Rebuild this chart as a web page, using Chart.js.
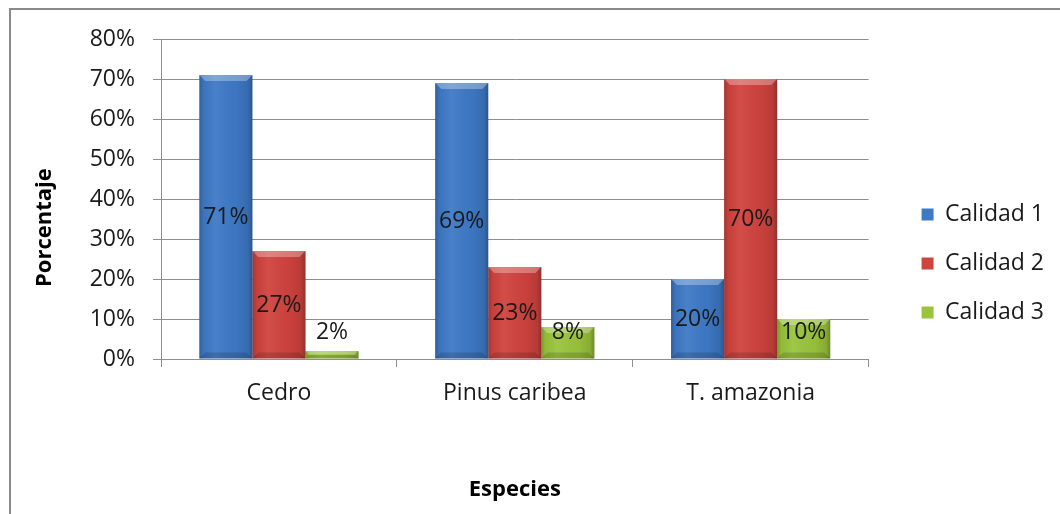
<!DOCTYPE html>
<html>
<head>
<meta charset="utf-8">
<script src="https://cdn.jsdelivr.net/npm/chart.js@4"></script>
<style>
  html, body { margin: 0; padding: 0; background: #fff; overflow: hidden; }
  #wrap { position: relative; width: 1060px; height: 514px; }
  #frame { position: absolute; left: 9px; top: 8px; width: 1100px; height: 600px;
           border: 2px solid #8a8a8a; box-sizing: border-box; pointer-events: none; }
  canvas { position: absolute; left: 0; top: 0; }
</style>
</head>
<body>
<div id="wrap">
  <canvas id="c" width="1060" height="514"></canvas>
  <div id="frame"></div>
</div>
<script>
// Species and quality classes
const especies = ['Cedro', 'Pinus caribea', 'T. amazonia'];
const calidad1 = [71, 69, 20];
const calidad2 = [27, 23, 70];
const calidad3 = [2, 8, 10];
const seriesNames = ['Calidad 1', 'Calidad 2', 'Calidad 3'];
const yTicks = [0, 10, 20, 30, 40, 50, 60, 70, 80];

const colors = ['#3e79c6', '#d0433e', '#9ac43c'];
const FONT = '"Open Sans", "Noto Sans", sans-serif';
const GRID = '#8e8e8e';

// Bevel shading on top of each bar, following the element geometry
const bevelPlugin = {
  id: 'bevel',
  afterDatasetsDraw(chart) {
    const ctx = chart.ctx;
    chart.data.datasets.forEach((ds, di) => {
      const meta = chart.getDatasetMeta(di);
      meta.data.forEach(bar => {
        const left = bar.x - bar.width / 2, right = bar.x + bar.width / 2;
        const top = bar.y, bottom = bar.base, w = bar.width;
        if (bottom - top < 1) return;
        ctx.save();
        const g = ctx.createLinearGradient(left, 0, right, 0);
        g.addColorStop(0, 'rgba(0,0,0,0.22)');
        g.addColorStop(0.08, 'rgba(0,0,0,0.05)');
        g.addColorStop(0.3, 'rgba(255,255,255,0.06)');
        g.addColorStop(0.7, 'rgba(0,0,0,0.03)');
        g.addColorStop(0.92, 'rgba(0,0,0,0.12)');
        g.addColorStop(1, 'rgba(0,0,0,0.3)');
        ctx.fillStyle = g;
        ctx.fillRect(left, top, w, bottom - top);
        // top bevel
        const b = Math.min(6, (bottom - top) / 2);
        ctx.beginPath();
        ctx.moveTo(left, top);
        ctx.lineTo(right, top);
        ctx.lineTo(right - b, top + b);
        ctx.lineTo(left + b, top + b);
        ctx.closePath();
        ctx.fillStyle = 'rgba(255,255,255,0.3)';
        ctx.fill();
        // bottom shade
        ctx.beginPath();
        ctx.moveTo(left, bottom);
        ctx.lineTo(right, bottom);
        ctx.lineTo(right - b, bottom - b);
        ctx.lineTo(left + b, bottom - b);
        ctx.closePath();
        ctx.fillStyle = 'rgba(0,0,0,0.15)';
        ctx.fill();
        ctx.restore();
      });
    });
  }
};

// Value labels: centred in the bar, lifted above the axis for short bars
const valueLabels = {
  id: 'valueLabels',
  afterDatasetsDraw(chart) {
    const ctx = chart.ctx;
    ctx.save();
    ctx.font = '23px ' + FONT;
    ctx.fillStyle = '#1a1a1a';
    ctx.textAlign = 'center';
    ctx.textBaseline = 'middle';
    chart.data.datasets.forEach((ds, di) => {
      const meta = chart.getDatasetMeta(di);
      meta.data.forEach((bar, i) => {
        const mid = (bar.y + bar.base) / 2;
        const y = Math.min(mid + 1, bar.base - 26);
        ctx.fillText(ds.data[i] + '%', bar.x, y);
      });
    });
    ctx.restore();
  }
};

const datasets = [calidad1, calidad2, calidad3].map((d, i) => ({
  label: seriesNames[i],
  data: d,
  backgroundColor: colors[i],
  borderWidth: 0,
  barPercentage: 1,
  categoryPercentage: 0.675
}));

new Chart(document.getElementById('c'), {
  type: 'bar',
  data: { labels: especies, datasets },
  options: {
    responsive: false,
    animation: false,
    layout: { padding: { top: 39, bottom: 26, left: 0, right: 6 } },
    plugins: {
      legend: {
        position: 'right',
        align: 'center',
        labels: {
          boxWidth: 12,
          boxHeight: 12,
          padding: 26,
          color: '#1a1a1a',
          font: { family: FONT, size: 23 }
        }
      },
      tooltip: { enabled: false }
    },
    scales: {
      x: {
        grid: { display: true, drawOnChartArea: false, drawTicks: true, tickLength: 8, color: GRID, offset: true },
        border: { display: true, color: GRID },
        ticks: { color: '#1a1a1a', font: { family: FONT, size: 23 }, padding: 13 },
        title: { display: true, text: 'Especies', color: '#000', font: { family: FONT, size: 22, weight: 'bold' }, padding: { top: 0, bottom: -15 } },
        afterFit(s) { s.height = 129; }
      },
      y: {
        min: 0,
        max: 80,
        afterBuildTicks(s) { s.ticks = yTicks.map(v => ({ value: v })); },
        grid: { color: GRID, tickLength: 8 },
        border: { display: true, color: GRID },
        ticks: { color: '#1a1a1a', font: { family: FONT, size: 23 }, padding: 18, callback: v => v + '%' },
        title: { display: true, text: 'Porcentaje          ', color: '#000', font: { family: FONT, size: 22, weight: 'bold' }, padding: { top: 32, bottom: 0 } },
        afterFit(s) { s.width = 161; }
      },
      spacer: {
        type: 'linear',
        position: 'right',
        display: true,
        grid: { display: false },
        border: { display: false },
        ticks: { display: false },
        afterFit(s) { s.width = 27; }
      }
    }
  },
  plugins: [bevelPlugin, valueLabels]
});
</script>
</body>
</html>
